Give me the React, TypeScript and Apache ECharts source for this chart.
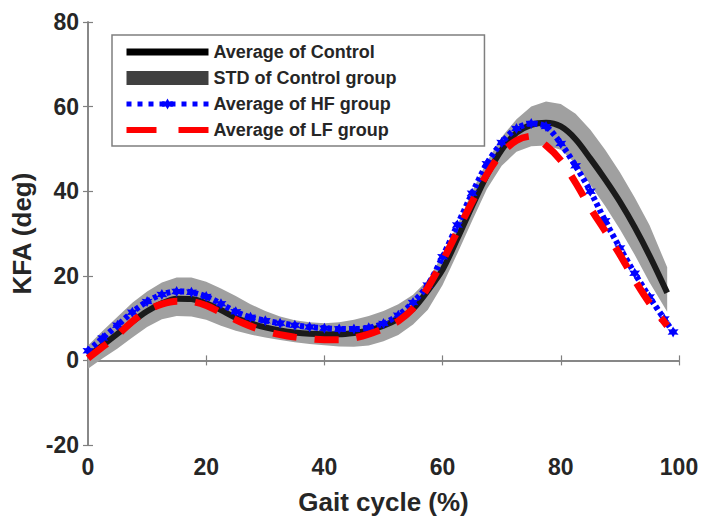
import React, { useEffect, useRef } from "react";
import * as echarts from "echarts";

// Gait cycle (%) sample positions
const pct = [0, 2.5, 5, 7.5, 10, 12.5, 15, 17.5, 20, 22.5, 25, 27.5, 30, 32.5, 35, 37.5, 40, 42.5, 45, 47.5, 50, 52.5, 55, 57.5, 60, 62.5, 65, 67.5, 70, 72.5, 75, 77.5, 80, 82.5, 85, 87.5, 90, 92.5, 95, 98];
const hfPct = [0, 2.5, 5, 7.5, 10, 12.5, 15, 17.5, 20, 22.5, 25, 27.5, 30, 32.5, 35, 37.5, 40, 42.5, 45, 47.5, 50, 52.5, 55, 57.5, 60, 62.5, 65, 67.5, 70, 72.5, 75, 77.5, 80, 82.5, 85, 87.5, 90, 92.5, 95, 97.5, 99];

// Average of Control
const controlMean = [1, 3.6, 6.3, 9.1, 11.6, 13.5, 14.6, 14.5, 13.5, 11.9, 10.1, 8.8, 7.8, 7.1, 6.6, 6.3, 6.2, 6.2, 6.5, 7.1, 8.2, 9.8, 12.2, 16.5, 21.5, 28.8, 36.5, 43.8, 49.8, 53.8, 55.7, 56.2, 55.3, 52.3, 47.7, 42.8, 37.5, 31.5, 24.8, 16];
// STD band of Control group (upper / lower edges)
const controlUpper = [3.5, 7, 10.3, 13.6, 16.3, 18.4, 19.6, 19.6, 18.6, 17, 15.2, 13.3, 11.7, 10.4, 9.5, 9, 8.8, 9, 9.6, 10.5, 11.7, 13.3, 15.5, 19, 25, 32, 40, 47, 52.8, 57, 60, 61.2, 60.6, 58.3, 54.5, 49.8, 44.5, 38.5, 32, 22];
const controlLower = [-2, 0.5, 2.8, 5.4, 7.9, 9.7, 10.5, 10.4, 9.6, 8.2, 7, 6.1, 5.4, 4.8, 4.3, 3.9, 3.6, 3.3, 3.2, 3.5, 4.5, 6, 8.5, 12, 17.8, 25.3, 33, 40.5, 46, 49.3, 50.6, 50.8, 49.8, 46.5, 41.5, 36.5, 31, 25, 18.5, 11.5];
// Average of HF group
const hfMean = [2.3, 5.3, 8.3, 11.4, 13.9, 15.6, 16.3, 16.1, 15.1, 13.4, 11.5, 10.2, 9.4, 8.8, 8.3, 7.9, 7.6, 7.4, 7.4, 7.7, 8.7, 10.7, 13.7, 17.8, 24.5, 32, 39.5, 46.5, 51.5, 54.8, 56, 55.3, 51.3, 46, 40, 33, 26.6, 20.6, 15, 9.8, 6.7];
// Average of LF group
const lfMean = [0.5, 3.2, 6, 9.2, 11.8, 13.3, 14, 13.9, 13, 11.3, 9.6, 8.1, 6.9, 6.1, 5.5, 5.1, 4.9, 4.9, 5.3, 6.2, 7.5, 9.3, 12.3, 17.2, 23.5, 30.5, 37.5, 44, 49, 52, 53, 50.8, 47.3, 42, 36, 30.6, 25, 19, 13.6, 8.2];

const xTicks = { min: 0, max: 100, interval: 20 };
const yTicks = { min: -20, max: 80, interval: 20 };

const FONT = "'Liberation Sans', Arial, Helvetica, sans-serif";
const TEXT = "#262626";
const AXIS = "#808080";

const STAR = "path://M0,-10L2.6,-4.5L8.7,-5L5.2,0L8.7,5L2.6,4.5L0,10L-2.6,4.5L-8.7,5L-5.2,0L-8.7,-5L-2.6,-4.5Z";

export default function App() {
  const ref = useRef<HTMLDivElement>(null);
  useEffect(() => {
    document.body.style.margin = "0";
    if (!ref.current) return;
    const chart = echarts.init(ref.current, null, { renderer: "svg" });

    const bandData = pct.map((x, i) => [x, controlLower[i], controlUpper[i]]);
    const pair = (xs: number[], ys: number[]) => xs.map((x, i) => [x, ys[i]]);

    const axisLabel = { fontFamily: FONT, fontWeight: "bold" as const, fontSize: 23, color: TEXT };
    const option: any = {
      animation: false,
      grid: { left: 88, right: 23, top: 22, bottom: 73 },
      xAxis: [
        {
          type: "value",
          ...xTicks,
          name: "Gait cycle (%)",
          nameLocation: "middle",
          nameGap: 44,
          nameTextStyle: { fontFamily: FONT, fontWeight: "bold", fontSize: 26, color: TEXT },
          axisLine: { show: true, lineStyle: { color: AXIS, width: 1.5 } },
          axisTick: { show: true, inside: true, length: 5, lineStyle: { color: AXIS, width: 1.2 } },
          axisLabel: { ...axisLabel, margin: 10 },
          splitLine: { show: false },
        },
        {
          type: "value",
          ...xTicks,
          position: "top",
          axisLine: { show: true, lineStyle: { color: AXIS, width: 1.5 } },
          axisTick: { show: true, inside: true, length: 5, lineStyle: { color: AXIS, width: 1.2 } },
          axisLabel: { show: false },
          splitLine: { show: false },
        },
      ],
      yAxis: [
        {
          type: "value",
          ...yTicks,
          name: "KFA (deg)",
          nameLocation: "middle",
          nameGap: 48,
          nameTextStyle: { fontFamily: FONT, fontWeight: "bold", fontSize: 26, color: TEXT },
          axisLine: { show: true, lineStyle: { color: AXIS, width: 1.5 } },
          axisTick: { show: true, inside: true, length: 5, lineStyle: { color: AXIS, width: 1.2 } },
          axisLabel: { ...axisLabel, margin: 9 },
          splitLine: { show: false },
        },
        {
          type: "value",
          ...yTicks,
          position: "right",
          axisLine: { show: true, lineStyle: { color: AXIS, width: 1.5 } },
          axisTick: { show: true, inside: true, length: 5, lineStyle: { color: AXIS, width: 1.2 } },
          axisLabel: { show: false },
          splitLine: { show: false },
        },
      ],
      legend: {
        left: 112,
        top: 35,
        orient: "vertical",
        itemWidth: 82,
        itemHeight: 14,
        itemGap: 6,
        padding: [7, 88, 6, 11],
        borderColor: "#7f7f7f",
        borderWidth: 1.5,
        backgroundColor: "#ffffff",
        selectedMode: false,
        textStyle: { fontFamily: FONT, fontWeight: "bold", fontSize: 18, color: TEXT, lineHeight: 20 },
        data: [
          { name: "Average of Control", itemStyle: { opacity: 0 }, lineStyle: { width: 7, color: "#000000" } },
          { name: "STD of Control group", icon: "rect", itemStyle: { color: "#404040" } },
          { name: "Average of HF group", lineStyle: { type: [5, 6], width: 5 } },
          { name: "Average of LF group", itemStyle: { opacity: 0 }, lineStyle: { type: [30, 22], width: 6 } },
        ],
      },
      series: [
        {
          name: "STD of Control group",
          type: "custom",
          z: 1,
          data: bandData,
          encode: { x: 0, y: [1, 2] },
          itemStyle: { color: "#a0a0a0" },
          renderItem: (params: any, api: any) => {
            if (params.dataIndex !== 0) return { type: "group", children: [] };
            const top = pct.map((x, i) => api.coord([x, controlUpper[i]]));
            const bot = pct.map((x, i) => api.coord([x, controlLower[i]])).reverse();
            return {
              type: "polygon",
              shape: { points: top.concat(bot), smooth: 0 },
              style: { fill: "#a0a0a0", stroke: "none" },
            };
          },
        },
        {
          name: "Average of Control",
          type: "line",
          z: 2,
          data: pair(pct, controlMean),
          smooth: 0.3,
          showSymbol: false,
          symbol: "none",
          lineStyle: { color: "#1a1a1a", width: 6 },
          itemStyle: { color: "#1a1a1a" },
        },
        {
          name: "Average of HF group",
          type: "line",
          z: 3,
          data: pair(hfPct, hfMean),
          smooth: 0.3,
          symbol: STAR,
          symbolSize: 11,
          showSymbol: true,
          lineStyle: { color: "#0000ff", width: 6, type: [4, 3] },
          itemStyle: { color: "#0000ff" },
        },
        {
          name: "Average of LF group",
          type: "line",
          z: 4,
          data: pair(pct, lfMean),
          smooth: 0.3,
          showSymbol: false,
          symbol: "none",
          lineStyle: { color: "#ff0000", width: 7, type: [24, 18], cap: "butt" },
          itemStyle: { color: "#ff0000" },
        },
      ],
    };
    chart.setOption(option);
    return () => chart.dispose();
  }, []);
  return <div ref={ref} style={{ width: 702, height: 520 }} />;
}
